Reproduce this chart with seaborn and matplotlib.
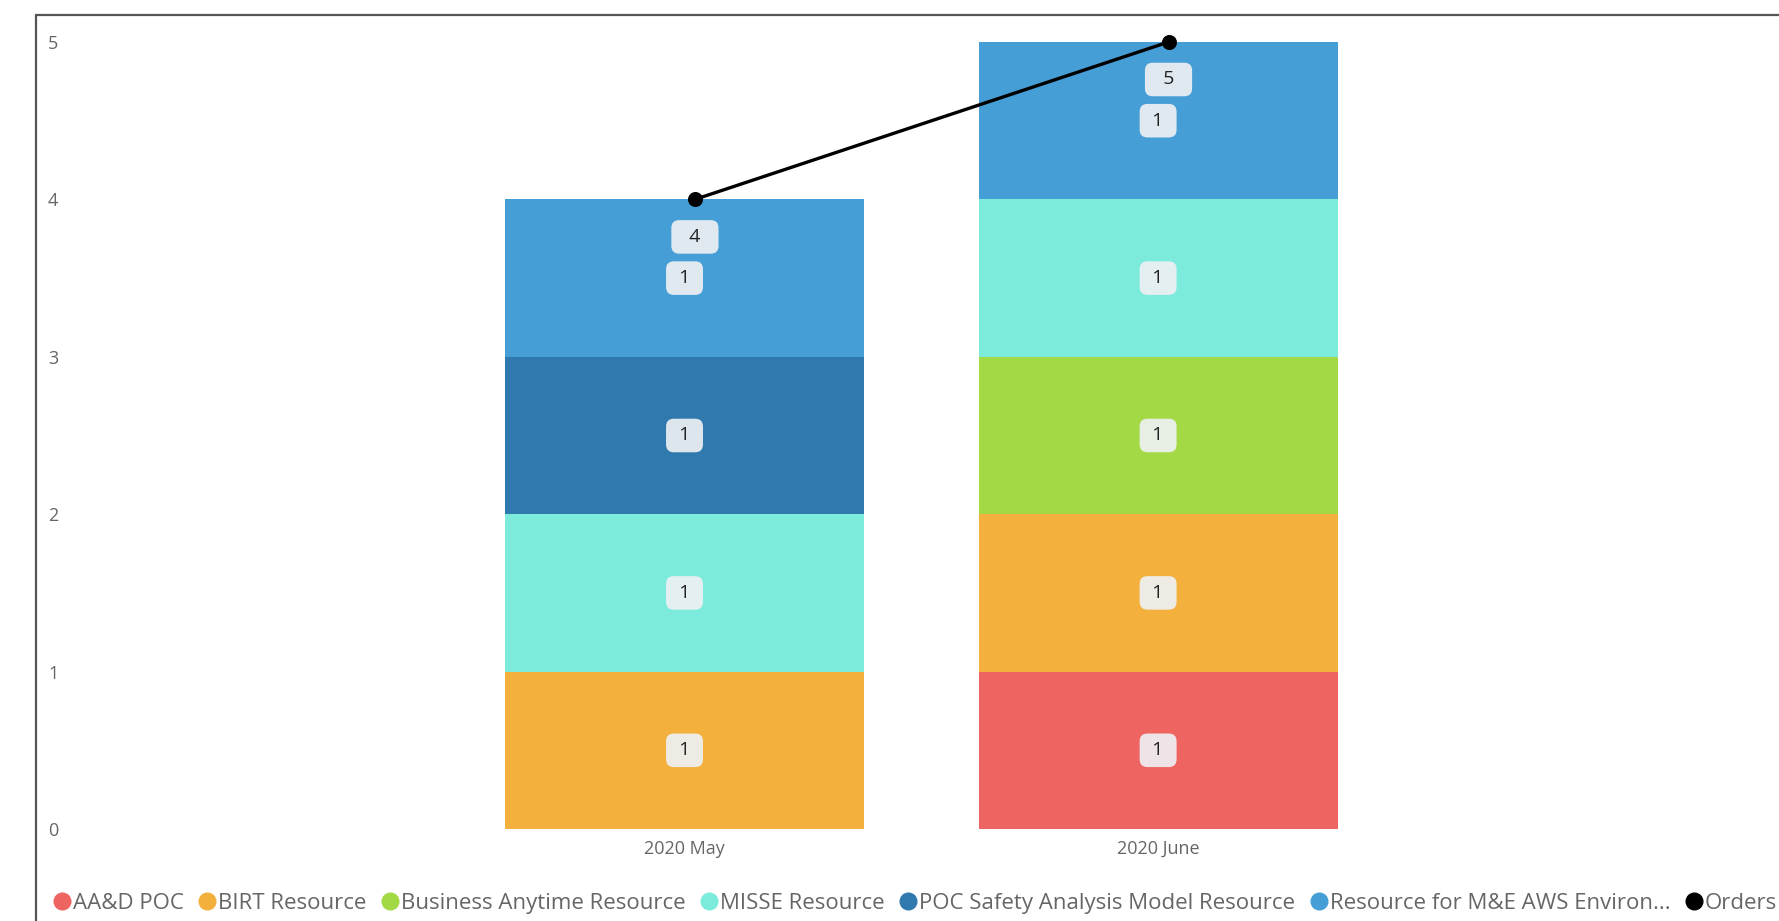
import matplotlib
matplotlib.use("Agg")
import matplotlib.pyplot as plt
from matplotlib.lines import Line2D
import matplotlib.transforms as mtransforms
import seaborn as sns
import numpy as np

# ---- data ----
months = ["2020 May", "2020 June"]
series_names = ["AA&D POC", "BIRT Resource", "Business Anytime Resource", "MISSE Resource",
                "POC Safety Analysis Model Resource", "Resource for M&E AWS Environ..."]
aad_poc = [0, 1]
birt = [1, 1]
business_anytime = [0, 1]
misse = [1, 1]
poc_safety = [1, 0]
resource_me = [1, 1]
orders = [4, 5]
y_ticks = [0, 1, 2, 3, 4, 5]

series_values = [aad_poc, birt, business_anytime, misse, poc_safety, resource_me]
colors = ["#EE6461", "#F3B03D", "#A3D944", "#7DEBDC", "#2F79AE", "#459ED6"]

sns.set_theme(style="white")
plt.rcParams['font.family'] = ['Open Sans', 'DejaVu Sans']

W, H = 1779, 921
fig = plt.figure(figsize=(W / 100, H / 100), dpi=100)
ax = fig.add_axes([75 / W, 1 - 829 / H, (W - 75) / W, (829 - 42) / H])

bottom = np.zeros(len(months))
box_style = dict(boxstyle="round,pad=0.4,rounding_size=0.4", facecolor="#EEF0F3",
                 edgecolor="none", alpha=0.92)
for name, vals, col in zip(series_names, series_values, colors):
    vals = np.array(vals, dtype=float)
    sns.barplot(x=months, y=vals, bottom=bottom, color=col, width=0.758,
                saturation=1, ax=ax, linewidth=0, order=months)
    for i, v in enumerate(vals):
        if v > 0:
            ax.text(i, bottom[i] + v / 2, f" {int(v)} ", ha="center", va="center",
                    fontsize=14, color="#222222", bbox=box_style, zorder=5)
    bottom = bottom + vals

n_before = len(ax.lines)
sns.pointplot(x=months, y=orders, color="black", ax=ax, order=months,
              markers="o", markersize=9, linewidth=2.4)
shift = mtransforms.offset_copy(ax.transData, fig=fig, x=7.5, y=0, units="points")
for ln in ax.lines[n_before:]:
    ln.set_transform(shift)
    ln.set_clip_on(False)
    ln.set_zorder(6)
for coll in ax.collections:
    coll.set_clip_on(False)

for i, v in enumerate(orders):
    ax.annotate(f"  {v}  ", xy=(i, v), xytext=(7.5, -27), textcoords="offset points",
                ha="center", va="center", fontsize=14, color="#222222",
                bbox=box_style, zorder=7)

ax.set_xlim(-1.287, 2.311)
ax.set_ylim(0, 5)
ax.set_yticks(y_ticks)
ax.set_yticklabels([str(t) for t in y_ticks])
ax.tick_params(axis="y", length=0, pad=12, labelsize=13, labelcolor="#666666")
ax.tick_params(axis="x", length=0, pad=8, labelsize=13, labelcolor="#666666")
ax.set_xlabel("")
ax.set_ylabel("")
for s in ax.spines.values():
    s.set_visible(False)
ax.grid(False)

# frame lines
fig.add_artist(Line2D([36 / W, 36 / W], [0, 1 - 15 / H], transform=fig.transFigure,
                      color="#555555", linewidth=1.6))
fig.add_artist(Line2D([36 / W, 1], [1 - 15 / H, 1 - 15 / H], transform=fig.transFigure,
                      color="#555555", linewidth=1.6))

handles = [Line2D([], [], linestyle="none", marker="o", markersize=13, color=c,
                  markeredgewidth=0) for c in colors]
handles.append(Line2D([], [], linestyle="none", marker="o", markersize=13, color="black",
                      markeredgewidth=0))
labels = series_names + ["Orders"]
fig.legend(handles, labels, loc="center left", bbox_to_anchor=(42 / W, 1 - 903 / H),
           ncol=7, frameon=False, fontsize=16, handletextpad=0.0, columnspacing=0.55,
           borderaxespad=0, handlelength=1.0, labelcolor="#666666")

fig.savefig("out.png", dpi=100)
